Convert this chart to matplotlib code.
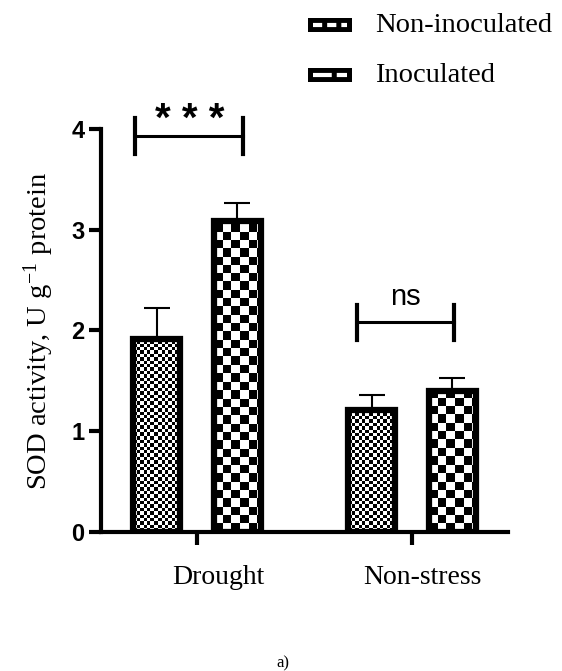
import numpy as np
import matplotlib
matplotlib.use("Agg")
import matplotlib.pyplot as plt
from matplotlib.patches import Rectangle
from matplotlib.lines import Line2D

# Data
groups = ["Drought", "Non-stress"]
series = ["Non-inoculated", "Inoculated"]
non_inoc = [1.92, 1.21]
non_inoc_err = [0.30, 0.15]
inoc = [3.09, 1.40]
inoc_err = [0.18, 0.13]
sig_labels = ["* * *", "ns"]

plt.rcParams["mathtext.fontset"] = "stix"
serif = "Liberation Serif"
sans = "Liberation Sans"

fig = plt.figure(figsize=(5.62, 6.71), dpi=100)
ax = fig.add_axes([0.1797, 0.2072, 0.7242, 0.6006])
ax.set_xlim(-0.447, 1.447)
ax.set_ylim(0, 4)

x = np.arange(len(groups))
off = 0.188
width = 0.22


def checker_bar(xc, h, err, cell):
    # white base, checker image clipped, thick black outline
    base = ax.bar(xc, h, width, color="white", edgecolor="none", zorder=2)[0]
    ax.errorbar(xc, h, yerr=[[0], [err]], fmt="none", ecolor="black",
                elinewidth=1.5, capsize=9.5, capthick=1.5, zorder=1)
    x0, y0 = ax.transData.transform((xc - width / 2, 0))
    x1, y1 = ax.transData.transform((xc + width / 2, h))
    w_px = int(round(x1 - x0))
    h_px = int(round(y1 - y0))
    iy, ix = np.mgrid[0:h_px, 0:w_px]
    img = ((np.floor(iy / cell) + np.floor(ix / cell)) % 2).astype(float)
    im = ax.imshow(img, cmap="gray", extent=(xc - width / 2, xc + width / 2, 0, h),
                   origin="lower", interpolation="nearest", aspect="auto", zorder=2.5)
    im.set_clip_path(base)
    ax.bar(xc, h, width, color="none", edgecolor="black", linewidth=4.5, zorder=3)


for i in range(len(groups)):
    checker_bar(x[i] - off, non_inoc[i], non_inoc_err[i], 3.4)
    checker_bar(x[i] + off, inoc[i], inoc_err[i], 8.3)

ax.set_xlim(-0.447, 1.447)
ax.set_ylim(0, 4)

# significance brackets
brackets = [(-0.288, 0.214, 3.93, 3.75, 4.11), (0.744, 1.195, 2.08, 1.91, 2.25)]
for (xa, xb, yh, ylo, yhi), lab in zip(brackets, sig_labels):
    ax.plot([xa, xb], [yh, yh], color="black", lw=2.2, clip_on=False, zorder=4)
    ax.plot([xa, xa], [ylo, yhi], color="black", lw=3, clip_on=False, zorder=4)
    ax.plot([xb, xb], [ylo, yhi], color="black", lw=3, clip_on=False, zorder=4)
ax.text(-0.033, 4.09, sig_labels[0], ha="center", va="center", fontsize=29,
        fontfamily=sans, fontweight="bold", clip_on=False)
ax.text(0.97, 2.33, sig_labels[1], ha="center", va="center", fontsize=21,
        fontfamily=sans, clip_on=False)

# axes styling
for s in ["top", "right"]:
    ax.spines[s].set_visible(False)
ax.spines["left"].set_linewidth(3)
ax.spines["bottom"].set_linewidth(3)
ax.set_yticks([0, 1, 2, 3, 4])
ax.set_yticklabels(["0", "1", "2", "3", "4"], fontfamily=sans, fontweight="bold", fontsize=17)
ax.tick_params(axis="y", width=3, length=9, pad=3)
ax.set_xticks(x)
ax.set_xticklabels([])
ax.tick_params(axis="x", width=3, length=9)

for xt, g in zip([0.098, 1.05], groups):
    ax.text(xt, -0.114, g, transform=ax.get_xaxis_transform(), ha="center", va="center",
            fontsize=20, fontfamily=serif)

fig.text(0.068, 0.507, "SOD activity, U g$^{\\mathregular{-1}}$ protein", rotation=90,
         ha="center", va="center", fontsize=20.5, fontfamily=serif)

# legend drawn by hand
W, H = 562.0, 671.0
sw = [(18, 32, 2.2), (68, 82, 4.5)]
for (ya, yb, dash), name in zip(sw, series):
    fig.add_artist(Rectangle((308 / W, 1 - yb / H), 44 / W, (yb - ya) / H,
                             transform=fig.transFigure, facecolor="black", edgecolor="none"))
    ym = 1 - (ya + yb) / 2 / H
    fig.add_artist(Line2D([313 / W, 347 / W], [ym, ym], transform=fig.transFigure,
                          color="white", lw=3, dashes=(dash, 1.2)))
    fig.text(375 / W, ym, name, ha="left", va="center", fontsize=20.5, fontfamily=serif)

fig.text(283 / W, 1 - 663 / H, "a)", ha="center", va="center", fontsize=12, fontfamily=serif)

fig.savefig("out.png", dpi=100)
